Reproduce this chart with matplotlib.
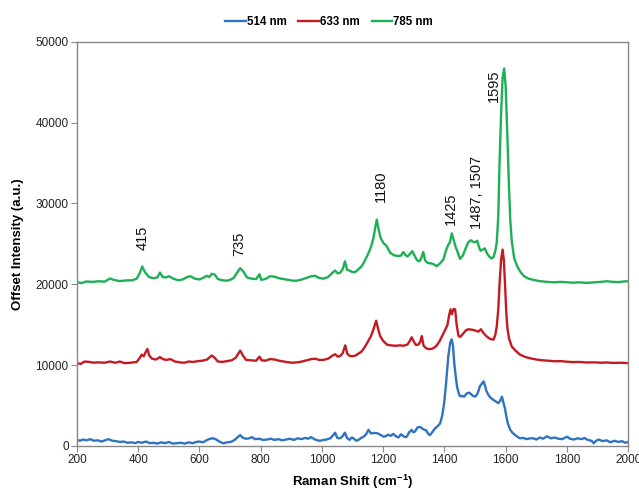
import matplotlib
matplotlib.use("Agg")
import matplotlib.pyplot as plt

plt.rcParams['font.family'] = ['Liberation Sans', 'DejaVu Sans']
plt.rcParams['mathtext.fontset'] = 'custom'
plt.rcParams['mathtext.rm'] = 'Liberation Sans:bold'
plt.rcParams['mathtext.default'] = 'rm'

# 514 nm spectrum (offset 0)
wn_514 = [200, 210, 220, 232, 243, 255, 268, 280, 292, 303, 315, 327, 340, 352, 365, 378, 390, 400,
          412, 425, 438, 450, 462, 475, 488, 500, 512, 525, 540, 552, 565, 578, 590, 600, 612, 625,
          635, 645, 655, 665, 678, 690, 702, 715, 725, 733, 742, 752, 762, 771, 782, 795, 808, 820,
          833, 845, 858, 870, 882, 895, 908, 920, 933, 945, 955, 965, 975, 985, 994, 1005, 1015, 1027,
          1036, 1043, 1050, 1059, 1067, 1075, 1082, 1090, 1097, 1103, 1112, 1119, 1128, 1136, 1145,
          1152, 1160, 1168, 1179, 1188, 1195, 1201, 1210, 1217, 1225, 1233, 1242, 1250, 1258, 1265,
          1271, 1277, 1285, 1293, 1298, 1304, 1312, 1321, 1328, 1335, 1340, 1347, 1353, 1360, 1370,
          1378, 1386, 1393, 1399, 1404, 1408, 1413, 1419, 1424, 1428, 1432, 1437, 1441, 1446, 1451,
          1458, 1464, 1473, 1480, 1486, 1493, 1500, 1507, 1512, 1516, 1522, 1528, 1533, 1537, 1544,
          1550, 1560, 1568, 1576, 1582, 1588, 1593, 1598, 1602, 1607, 1615, 1623, 1631, 1640, 1647,
          1658, 1668, 1680, 1691, 1700, 1712, 1722, 1735, 1748, 1760, 1772, 1785, 1800, 1810, 1822,
          1835, 1848, 1858, 1865, 1875, 1882, 1888, 1895, 1905, 1915, 1930, 1942, 1955, 1968, 1980,
          1990, 2000]
int_514 = [750, 650, 800, 700, 850, 650, 700, 550, 700, 850, 650, 600, 500, 550, 400, 450, 350, 500,
           400, 550, 350, 400, 300, 450, 350, 500, 300, 350, 400, 300, 450, 350, 500, 550, 450, 750,
           900, 950, 800, 550, 330, 450, 500, 750, 1100, 1350, 1000, 900, 950, 1100, 850, 900, 750, 800,
           900, 750, 850, 700, 800, 900, 750, 950, 850, 1000, 900, 1100, 850, 700, 650, 750, 800, 950,
           1300, 1650, 1000, 950, 1200, 1650, 1000, 750, 1050, 950, 650, 750, 1000, 1150, 1500,
           2000, 1550, 1600, 1600, 1450, 1300, 1150, 1250, 1400, 1250, 1500, 1200, 1050, 1450, 1250,
           1100, 1150, 1700, 2000, 1700, 1800, 2300, 2350, 2150, 2000, 1950, 1500, 1350, 1700, 2200,
           2450, 2800, 3800, 5300, 7200, 9000, 11200, 12800, 13200, 12400, 10300, 8600, 7400, 6600, 6150,
           6200, 6100, 6500, 6600, 6450, 6200, 6100, 6400, 6900, 7400, 7700, 8000, 7400, 6800, 6300,
           6000, 5700, 5500, 5300, 5600, 6100, 5300, 4600, 3700, 2800, 2000, 1600, 1350, 1100, 950,
           1000, 850, 950, 950, 800, 1050, 900, 1200, 950, 1050, 900, 850, 1150, 900, 800,
           950, 850, 1000, 800, 700, 600, 330, 650, 800, 600, 700, 450, 650, 500, 600,
           400, 500]

# 633 nm spectrum (offset 10000)
wn_633 = [200, 212, 225, 240, 255, 270, 290, 308, 325, 340, 355, 375, 395, 405, 411, 418, 424, 430,
          436, 445, 458, 471, 480, 492, 505, 520, 535, 550, 565, 580, 595, 610, 625, 640, 650, 660,
          675, 690, 705, 718, 733, 742, 752, 770, 785, 796, 803, 815, 830, 845, 860, 875, 890, 905,
          920, 935, 950, 965, 978, 990, 1005, 1020, 1035, 1043, 1052, 1060, 1068, 1076, 1083, 1090,
          1100, 1110, 1120, 1130, 1140, 1150, 1160, 1168, 1177, 1184, 1190, 1200, 1212, 1225, 1240,
          1255, 1266, 1279, 1287, 1293, 1300, 1307, 1315, 1321, 1326, 1332, 1340, 1348, 1356, 1364,
          1374, 1384, 1394, 1403, 1410, 1416, 1420, 1424, 1430, 1435, 1440, 1446, 1452, 1462, 1470,
          1478, 1487, 1495, 1503, 1511, 1519, 1528, 1538, 1549, 1560, 1566, 1571, 1576, 1580, 1585,
          1590, 1594, 1598, 1602, 1606, 1611, 1620, 1632, 1647, 1665, 1680, 1700, 1720, 1740, 1760,
          1780, 1800, 1820, 1840, 1865, 1890, 1910, 1930, 1950, 1975, 2000]
int_633 = [10250, 10150, 10450, 10400, 10300, 10350, 10300, 10450, 10300, 10450, 10250, 10300, 10400,
           10900, 11300, 11100, 11600, 12000, 11200, 10800, 10700, 11000, 10750, 10650, 10750, 10450,
           10350, 10300, 10450, 10400, 10500, 10550, 10700, 11200, 10900, 10450, 10400, 10500, 10600,
           10900, 11800, 11200, 10650, 10600, 10550, 11050, 10600, 10550, 10750, 10700, 10550, 10450,
           10350, 10300, 10350, 10450, 10600, 10750, 10800, 10650, 10650, 10800, 11200, 11350, 11050,
           11150, 11500, 12450, 11400, 11150, 11100, 11200, 11450, 11700, 12250, 12900, 13600, 14400,
           15500, 14400, 13600, 13000, 12550, 12450, 12400, 12450, 12400, 12550, 13000, 13450, 12900,
           12500, 12550, 12900, 13600, 12400, 12100, 12000, 12000, 12100, 12400, 12950, 13700, 14400,
           15000, 16300, 16900, 16300, 16950, 16900, 15000, 13600, 13500, 13950, 14300, 14450, 14400,
           14350, 14250, 14150, 14450, 13950, 13550, 13250, 13150, 13700, 14800, 17000, 20000, 23000,
           24300, 23000, 20000, 16500, 14500, 13300, 12300, 11800, 11300, 11000, 10850, 10700, 10600,
           10550, 10480, 10500, 10430, 10380, 10400, 10330, 10350, 10300, 10330, 10280, 10300, 10250]

# 785 nm spectrum (offset 20000)
wn_785 = [200, 215, 230, 250, 270, 290, 308, 320, 340, 360, 380, 395, 405, 413, 422, 435, 450, 462,
          471, 480, 490, 500, 515, 530, 545, 560, 570, 585, 600, 612, 624, 632, 640, 650, 660, 675,
          690, 700, 712, 722, 733, 745, 755, 770, 785, 796, 802, 815, 830, 845, 860, 875, 890, 905,
          918, 935, 950, 965, 978, 990, 1005, 1020, 1035, 1043, 1052, 1060, 1068, 1075, 1082, 1090,
          1100, 1110, 1120, 1130, 1140, 1150, 1160, 1168, 1174, 1179, 1185, 1192, 1201, 1210, 1223,
          1235, 1248, 1258, 1266, 1273, 1280, 1288, 1295, 1303, 1310, 1318, 1324, 1331, 1337, 1345,
          1355, 1364, 1375, 1386, 1397, 1405, 1412, 1418, 1424, 1430, 1436, 1443, 1451, 1460, 1470,
          1478, 1486, 1494, 1500, 1507, 1513, 1518, 1525, 1532, 1538, 1545, 1553, 1560, 1566, 1571,
          1576, 1580, 1585, 1590, 1595, 1600, 1605, 1610, 1615, 1620, 1628, 1637, 1647, 1660, 1675,
          1691, 1710, 1735, 1760, 1780, 1800, 1820, 1840, 1865, 1890, 1910, 1930, 1950, 1970, 1985,
          2000]
int_785 = [20260, 20150, 20350, 20300, 20380, 20330, 20720, 20550, 20400, 20480, 20500, 20700, 21400,
           22200, 21500, 20900, 20750, 20850, 21450, 20900, 20850, 21000, 20700, 20500, 20600, 20900,
           21000, 20700, 20600, 20800, 21050, 20900, 21300, 21200, 20650, 20500, 20450, 20550, 20800,
           21400, 22000, 21500, 20850, 20700, 20650, 21250, 20550, 20650, 21000, 20950, 20750, 20650,
           20550, 20450, 20450, 20600, 20800, 21000, 21050, 20800, 20700, 20900, 21450, 21700, 21350,
           21450, 21900, 22850, 21800, 21700, 21500, 21550, 21900, 22250, 22900, 23700, 24600, 25700,
           27000, 28000, 26800, 25700, 25100, 24800, 23900, 23600, 23500, 23550, 24000, 23600, 23450,
           23800, 24100, 23500, 23000, 22850, 23200, 24000, 22950, 22650, 22600, 22500, 22250, 22600,
           23100, 24200, 24850, 25200, 26300, 25500, 24700, 24000, 23150, 23550, 24500, 25200, 25450,
           25250, 25200, 25400, 24600, 24150, 24300, 24450, 23900, 23500, 23200, 23350, 24100, 25200,
           28500, 35000, 41000, 45500, 46700, 44500, 39000, 33000, 28000, 25300, 23200, 22300, 21600,
           21000, 20700, 20550, 20400, 20300, 20250, 20300, 20250, 20200, 20250, 20180, 20250, 20300,
           20380, 20300, 20280, 20350, 20380]

# peak labels (position of the text bottom)
peak_labels = ["415", "735", "1180", "1425", "1487, 1507", "1595"]
peak_x = [413, 729, 1192, 1421, 1506, 1560]
peak_y = [24200, 23550, 30150, 27300, 26800, 42550]

fig = plt.figure(figsize=(6.39, 4.92), dpi=100)
ax = fig.add_axes([0.1205, 0.0935, 0.8625, 0.8215])

ax.plot(wn_514, int_514, color='#2E74C0', lw=1.7, label='514 nm')
ax.plot(wn_633, int_633, color='#C41A22', lw=1.7, label='633 nm')
ax.plot(wn_785, int_785, color='#1EB055', lw=1.7, label='785 nm')

for lab, px, py in zip(peak_labels, peak_x, peak_y):
    ax.text(px, py, lab, rotation=90, ha='center', va='bottom', fontsize=10.5, color='#111111')

ax.set_xlim(200, 2000)
ax.set_ylim(0, 50000)
ax.set_xticks(range(200, 2001, 200))
ax.set_yticks(range(0, 50001, 10000))
ax.tick_params(direction='out', length=4, width=0.8, color='#888888', labelsize=8.5,
               labelcolor='#222222', pad=2)
for s in ax.spines.values():
    s.set_color('#888888')
    s.set_linewidth(1.0)

ax.set_xlabel('Raman Shift (cm$^{-1}$)', fontsize=9.5, fontweight='bold', labelpad=5)
ax.set_ylabel('Offset Intensity (a.u.)', fontsize=9.5, fontweight='bold', labelpad=8)

fig.legend(loc='center', bbox_to_anchor=(0.515, 0.956), ncol=3, frameon=False,
           prop={'weight': 'bold', 'size': 8.3}, handlelength=1.8, handletextpad=0.1,
           columnspacing=1.0)

fig.savefig('out.png', dpi=100)
